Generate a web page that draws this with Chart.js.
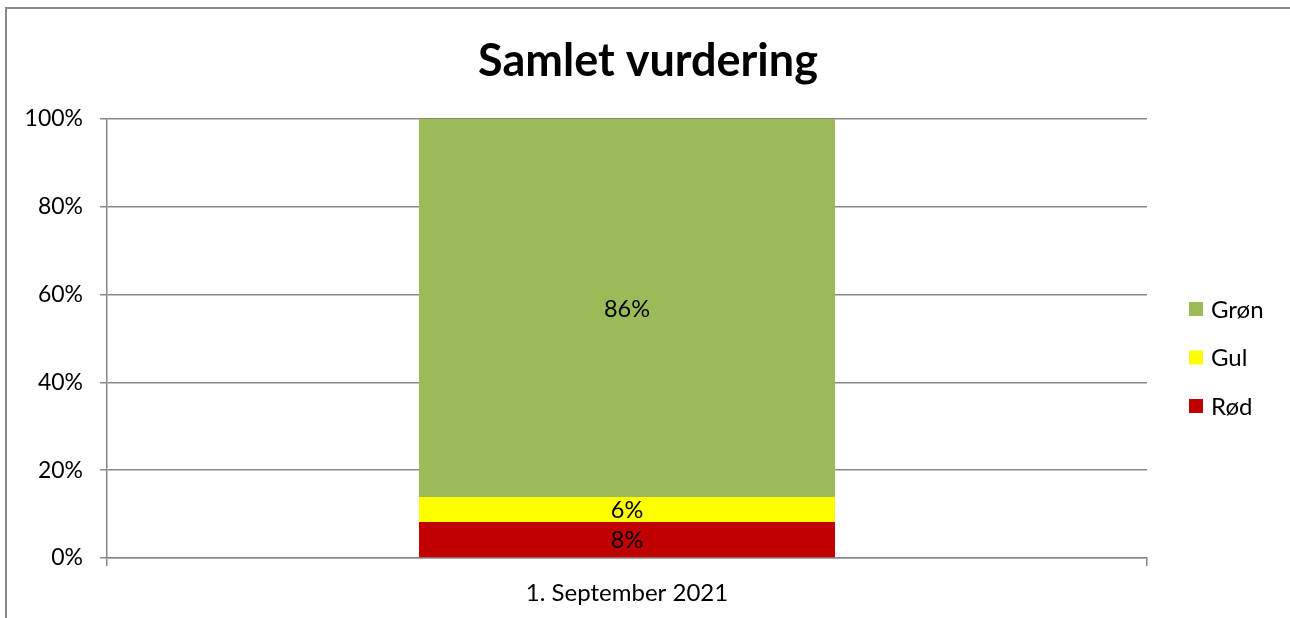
<!DOCTYPE html>
<html>
<head>
<meta charset="utf-8">
<script src="https://cdn.jsdelivr.net/npm/chart.js@4.4.0/dist/chart.umd.min.js"></script>
<style>
  body { margin: 0; background: #fff; }
  #wrap { width: 1290px; height: 618px; }
</style>
</head>
<body>
<div id="wrap"><canvas id="chart" width="1290" height="618"></canvas></div>
<script>
const categories = ["1. September 2021"];
const rod = [8.2];
const gul = [5.7];
const gron = [86.1];
const yTicks = [0, 20, 40, 60, 80, 100];

const FONT = "Lato, 'Open Sans', sans-serif";
const GRID = "#898989";

// frame round the chart (top and left edge only, as in the picture)
const framePlugin = {
    id: "frame",
    beforeDraw(chart) {
        const c = chart.ctx;
        c.save();
        c.fillStyle = "#fff";
        c.fillRect(0, 0, chart.width, chart.height);
        c.strokeStyle = GRID;
        c.lineWidth = 2;
        c.beginPath();
        c.moveTo(6, chart.height);
        c.lineTo(6, 8);
        c.lineTo(chart.width, 8);
        c.stroke();
        c.restore();
    }
};

// value labels in the middle of each segment
const labelPlugin = {
    id: "segLabels",
    afterDatasetsDraw(chart) {
        const c = chart.ctx;
        c.save();
        c.font = "23.5px " + FONT;
        c.fillStyle = "#000";
        c.textAlign = "center";
        c.textBaseline = "middle";
        chart.data.datasets.forEach((ds, i) => {
            chart.getDatasetMeta(i).data.forEach((bar, j) => {
                const p = bar.getProps(["x", "y", "base"], true);
                c.fillText(Math.round(ds.data[j]) + "%", p.x, (p.y + p.base) / 2 + 1);
            });
        });
        c.restore();
    }
};

// legend on the right, top item = last dataset
const legendPlugin = {
    id: "sideLegend",
    afterDraw(chart) {
        const c = chart.ctx;
        const items = chart.data.datasets.slice().reverse();
        c.save();
        c.font = "24px " + FONT;
        c.textBaseline = "middle";
        c.textAlign = "left";
        items.forEach((ds, k) => {
            const y = 309 + k * 48.5;
            c.fillStyle = ds.backgroundColor;
            c.fillRect(1189, y - 7, 14, 14);
            c.fillStyle = "#000";
            c.fillText(ds.label, 1211, y + 1);
        });
        c.restore();
    }
};

new Chart(document.getElementById("chart"), {
    type: "bar",
    data: {
        labels: categories,
        datasets: [
            { label: "Rød", data: rod, backgroundColor: "#C00000" },
            { label: "Gul", data: gul, backgroundColor: "#FFFF00" },
            { label: "Grøn", data: gron, backgroundColor: "#9BBB59" }
        ]
    },
    options: {
        responsive: false,
        animation: false,
        devicePixelRatio: 1,
        barPercentage: 0.4,
        categoryPercentage: 1,
        layout: { padding: { left: 6, top: 10, right: 0, bottom: 0 } },
        plugins: {
            legend: { display: false },
            tooltip: { enabled: false },
            title: {
                display: true,
                text: "Samlet vurdering",
                color: "#000",
                font: { family: FONT, size: 45, weight: "bold", lineHeight: 1.2 },
                padding: { top: 24, bottom: 31 }
            }
        },
        scales: {
            x: {
                stacked: true,
                grid: { drawOnChartArea: false, drawTicks: true, tickLength: 8, color: GRID, lineWidth: 1.5 },
                border: { display: true, color: GRID, width: 1.5 },
                ticks: { color: "#000", font: { family: FONT, size: 24 }, padding: 13 },
                afterFit(scale) { scale.height = 60; }
            },
            y: {
                stacked: true,
                min: 0,
                max: 100,
                afterBuildTicks(scale) { scale.ticks = yTicks.map(v => ({ value: v })); },
                grid: { color: GRID, lineWidth: 1.5, tickLength: 7 },
                border: { display: true, color: GRID, width: 1.5 },
                ticks: {
                    color: "#000",
                    font: { family: FONT, size: 23 },
                    padding: 17,
                    callback: v => v + "%"
                },
                afterFit(scale) { scale.width = 101; }
            },
            // empty axis on the right that only keeps room for the legend
            side: {
                position: "right",
                display: true,
                grid: { display: false, drawTicks: false },
                border: { display: false },
                ticks: { display: false },
                afterFit(scale) { scale.width = 143; }
            }
        }
    },
    plugins: [framePlugin, labelPlugin, legendPlugin]
});
</script>
</body>
</html>
